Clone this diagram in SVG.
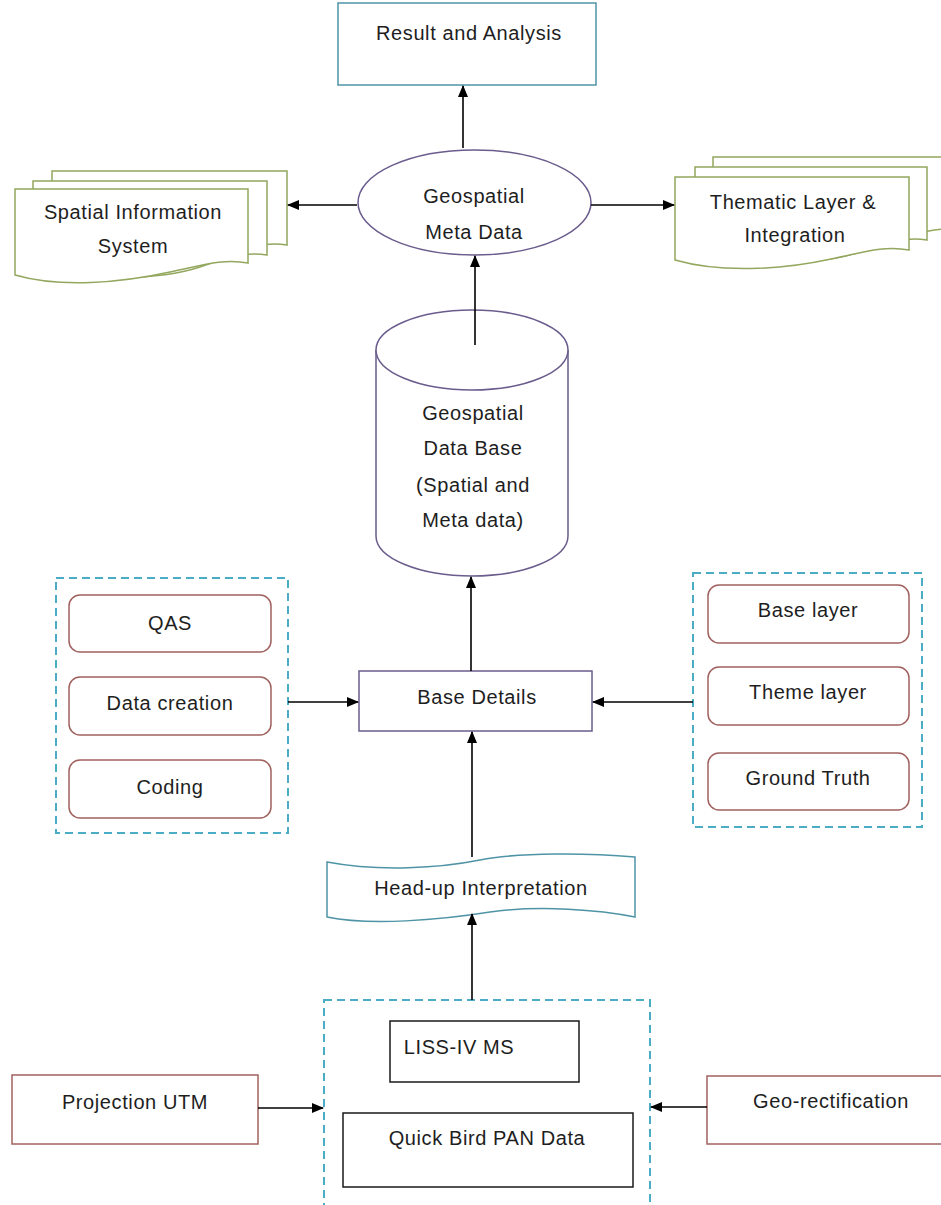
<svg xmlns="http://www.w3.org/2000/svg" width="941" height="1205" viewBox="0 0 941 1205">
<style>
text{font-family:"Liberation Sans",Arial,sans-serif;font-size:20px;fill:#1e1e1e;text-anchor:middle;dominant-baseline:central;letter-spacing:0.6px}
.teal{fill:#fff;stroke:#4f94a6;stroke-width:1.5}
.purple{fill:#fff;stroke:#6a5c8c;stroke-width:1.5}
.doc{fill:#fff;stroke:#93a75e;stroke-width:1.5}
.maroon{fill:#fff;stroke:#a0625f;stroke-width:1.5}
.black{fill:#fff;stroke:#1a1a1a;stroke-width:1.5}
.dash{fill:none;stroke:#4bacc6;stroke-width:2;stroke-dasharray:8 5}
.tape{fill:#fff;stroke:#4f94a6;stroke-width:1.5}
.conn path{fill:none;stroke:#000;stroke-width:1.6;marker-end:url(#arr)}
</style>
<defs>
<marker id="arr" markerWidth="12" markerHeight="10" refX="11" refY="5" orient="auto" markerUnits="userSpaceOnUse">
<path d="M0,0 L12,5 L0,10 Z" fill="#000"/>
</marker>
</defs>
<rect width="941" height="1205" fill="#fff"/>

<g id="result">
<rect class="teal" x="338" y="3" width="258" height="82"/>
<text x="469" y="33">Result and Analysis</text>
</g>

<g id="metadata">
<ellipse class="purple" cx="474.5" cy="202.5" rx="116.5" ry="52.5"/>
<text x="474" y="196">Geospatial</text>
<text x="474" y="232">Meta Data</text>
</g>

<g id="sis">
<path class="doc" d="M52,171 H287 V245 C262,241 240,250 220,257 C180,270 110,272 52,257 Z"/>
<path class="doc" d="M33,181 H267 V255 C242,251 220,260 200,267 C160,280 90,282 33,267 Z"/>
<path class="doc" d="M15,189 H248 V263 C222,258 200,266 170,272 C120,283 60,288 15,275 Z"/>
<text x="133" y="212">Spatial Information</text>
<text x="133" y="246">System</text>
</g>

<g id="thematic">
<path class="doc" d="M713,157 H960 V230 C935,226 913,235 893,242 C853,255 783,257 713,242 Z"/>
<path class="doc" d="M695,167 H927 V240 C902,236 880,245 860,252 C820,265 750,267 695,252 Z"/>
<path class="doc" d="M675,177 H909 V250 C883,245 861,253 831,259 C781,270 720,273 675,260 Z"/>
<text x="793" y="202">Thematic Layer &amp;</text>
<text x="795" y="235">Integration</text>
</g>

<g id="database">
<path class="purple" d="M376,350 V536 A96,40 0 0 0 568,536 V350"/>
<ellipse class="purple" cx="472" cy="350" rx="96" ry="40"/>
<text x="473" y="413">Geospatial</text>
<text x="473" y="448">Data Base</text>
<text x="473" y="485">(Spatial and</text>
<text x="473" y="520">Meta data)</text>
</g>

<g id="base-details">
<rect class="purple" x="359" y="671" width="233" height="60"/>
<text x="477" y="697">Base Details</text>
</g>

<g id="left-group">
<rect class="dash" x="56" y="578" width="232" height="255"/>
<rect class="maroon" x="69" y="595" width="202" height="57" rx="11"/>
<text x="170" y="623">QAS</text>
<rect class="maroon" x="69" y="677" width="202" height="58" rx="11"/>
<text x="170" y="703">Data creation</text>
<rect class="maroon" x="69" y="760" width="202" height="58" rx="11"/>
<text x="170" y="787">Coding</text>
</g>

<g id="right-group">
<rect class="dash" x="693" y="573" width="229" height="254"/>
<rect class="maroon" x="708" y="585" width="201" height="58" rx="11"/>
<text x="808" y="610">Base layer</text>
<rect class="maroon" x="708" y="667" width="201" height="58" rx="11"/>
<text x="808" y="692">Theme layer</text>
<rect class="maroon" x="708" y="753" width="201" height="57" rx="11"/>
<text x="808" y="778">Ground Truth</text>
</g>

<g id="headup">
<path class="tape" d="M327,862 C380,872 440,868 480,860 C520,852 590,853 635,857 V917 C600,910 540,905 490,912 C440,920 370,926 327,917 Z"/>
<text x="481" y="888">Head-up Interpretation</text>
</g>

<g id="data-group">
<rect class="dash" x="324" y="1000" width="326" height="215"/>
<rect class="black" x="390" y="1021" width="189" height="61"/>
<text x="459" y="1047">LISS-IV MS</text>
<rect class="black" x="343" y="1113" width="290" height="74"/>
<text x="487" y="1138">Quick Bird PAN Data</text>
</g>

<g id="projection">
<rect class="maroon" x="12" y="1075" width="246" height="69"/>
<text x="135" y="1102">Projection UTM</text>
</g>

<g id="georect">
<rect class="maroon" x="707" y="1076" width="250" height="68"/>
<text x="831" y="1101">Geo-rectification</text>
</g>

<g id="connectors" class="conn">
<path d="M463,148 V86"/>
<path d="M357,205 H288"/>
<path d="M591,205 H674"/>
<path d="M475,345 V256"/>
<path d="M471,671 V577"/>
<path d="M288,702 H358"/>
<path d="M693,702 H593"/>
<path d="M472,857 V732"/>
<path d="M472,1000 V914"/>
<path d="M258,1108 H323"/>
<path d="M707,1107 H651"/>
</g>
</svg>
